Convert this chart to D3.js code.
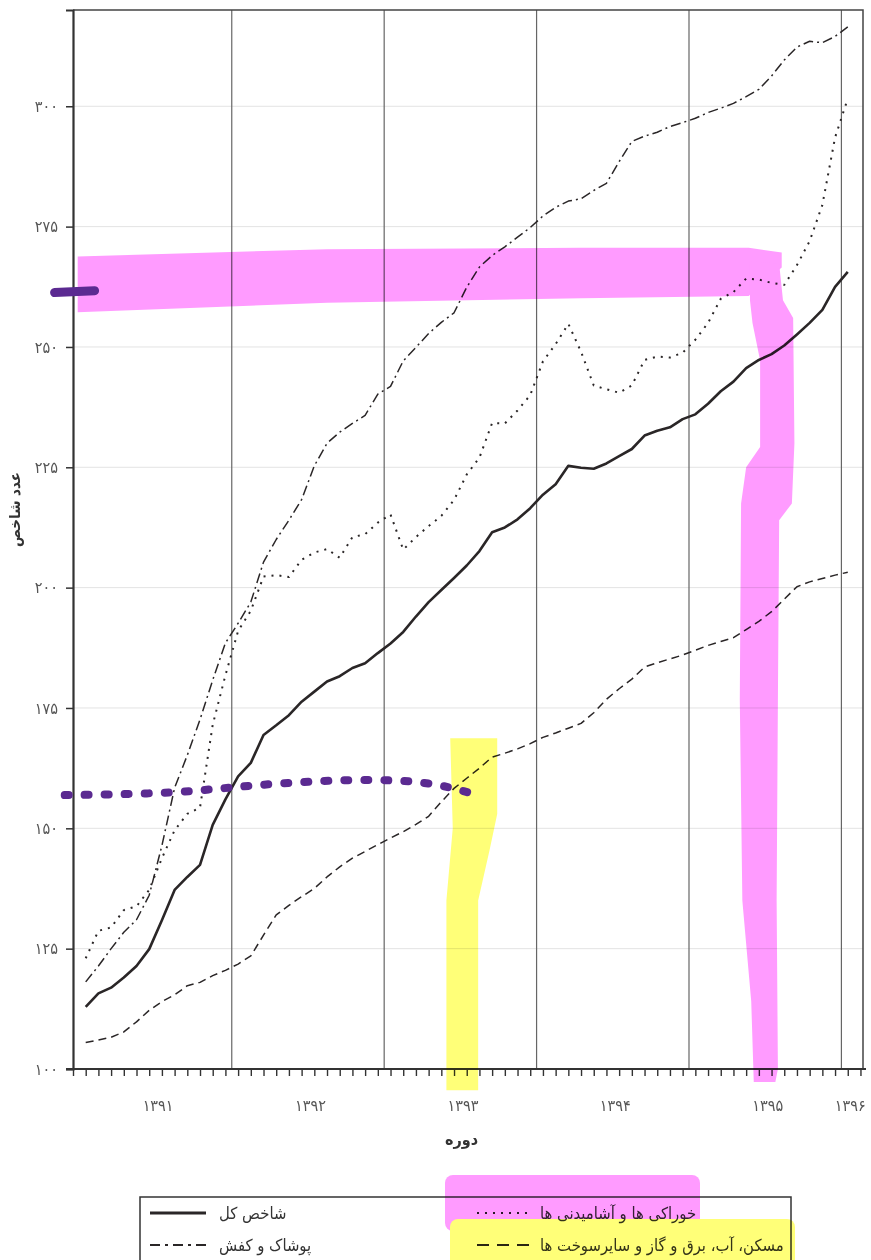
<!DOCTYPE html>
<html>
<head>
<meta charset="utf-8">
<script src="https://cdn.jsdelivr.net/npm/d3@7"></script>
<style>
  body { margin: 0; background: #fff; }
  text { font-family: "DejaVu Sans Condensed", "DejaVu Sans", sans-serif; }
</style>
</head>
<body>
<div id="chart"></div>
<script>
// Monthly index values, 1391/01 .. 1396/01 (61 months)
var total = [112.9, 115.7, 116.9, 119.0, 121.4, 124.9, 130.9, 137.2, 139.9, 142.4,
  150.7, 156.0, 160.8, 163.6, 169.4, 171.4, 173.5, 176.3, 178.4, 180.5,
  181.6, 183.3, 184.3, 186.4, 188.4, 190.8, 194.0, 197.0, 199.5, 202.0,
  204.6, 207.6, 211.5, 212.5, 214.2, 216.5, 219.3, 221.5, 225.3, 224.9,
  224.7, 225.8, 227.3, 228.8, 231.6, 232.6, 233.3, 235.0, 236.0, 238.2,
  240.8, 242.8, 245.6, 247.3, 248.5, 250.3, 252.6, 255.0, 257.7, 262.5, 265.6];

var food = [123.0, 128.7, 129.4, 133.0, 133.8, 137.2, 143.8, 149.6, 153.0, 154.3,
  171.5, 181.8, 191.0, 195.2, 202.3, 202.6, 202.2, 205.8, 207.3, 208.0,
  206.2, 210.5, 211.1, 213.5, 215.2, 207.9, 210.5, 212.8, 214.9, 218.2,
  223.5, 227.0, 234.2, 234.1, 236.8, 240.0, 247.0, 250.6, 254.8, 249.0,
  242.0, 241.2, 240.5, 242.0, 247.3, 248.0, 247.8, 248.8, 251.5, 255.0,
  260.0, 261.4, 264.2, 264.0, 263.3, 262.9, 267.0, 272.0, 279.5, 293.5, 301.6];

var clothing = [118.1, 121.4, 125.0, 128.4, 131.0, 136.1, 146.4, 158.4, 165.2, 172.6,
  180.8, 188.5, 192.6, 197.0, 205.3, 210.0, 214.0, 218.3, 225.3, 230.0,
  232.3, 234.1, 235.8, 240.2, 241.8, 247.1, 249.9, 252.8, 255.1, 257.1,
  262.4, 266.6, 269.0, 270.8, 272.8, 274.8, 277.2, 279.0, 280.3, 280.8,
  282.5, 284.0, 288.5, 292.7, 293.8, 294.6, 295.8, 296.6, 297.5, 298.7,
  299.6, 300.6, 302.0, 303.5, 306.3, 309.6, 312.3, 313.5, 313.2, 314.5, 316.5];

var housing = [105.5, 106.0, 106.6, 107.7, 109.8, 112.2, 114.0, 115.4, 117.3, 118.0,
  119.4, 120.5, 121.8, 123.5, 127.8, 132.0, 134.0, 135.8, 137.5, 139.9,
  142.0, 143.8, 145.2, 146.6, 148.0, 149.3, 150.8, 152.5, 155.5, 158.3,
  160.4, 162.5, 164.8, 165.6, 166.5, 167.6, 168.9, 169.8, 170.8, 171.8,
  174.0, 176.8, 179.0, 181.0, 183.5, 184.4, 185.2, 186.0, 187.0, 188.0,
  188.8, 189.6, 191.3, 193.0, 195.0, 197.6, 200.2, 201.2, 201.9, 202.6, 203.2];

var years = [1391, 1392, 1393, 1394, 1395, 1396];
var yTicks = [100, 125, 150, 175, 200, 225, 250, 275, 300];
var seriesNames = ["شاخص کل", "پوشاک و کفش", "خوراکی ها و آشامیدنی ها", "مسکن، آب، برق و گاز و سایرسوخت ها"];

// hand-drawn highlighter marks, in (month index, index value)
var pinkBand = [[0.37, 268.8], [20, 270.3], [40, 270.6], [53.2, 270.6], [55.8, 269.6],
  [55.8, 266.5], [53.2, 260.6], [40, 260.1], [20, 259.2], [0.37, 257.2]];
var pinkColumn = [[53.3, 267.8], [55.6, 267.3], [55.9, 259.7], [56.7, 256.0], [56.8, 230], [56.6, 217.5],
  [55.6, 214], [55.5, 176.6], [55.4, 135], [55.5, 100], [55.3, 97.3], [53.6, 97.3], [53.4, 114],
  [52.7, 135], [52.5, 176.6], [52.6, 217.5], [53.0, 225], [54.1, 229.2], [54.1, 247.2], [53.5, 255], [53.3, 259.7]];
var yellowColumn = [[29.7, 168.7], [33.4, 168.7], [33.4, 153], [32.8, 145.5], [31.9, 135], [31.9, 95.6],
  [29.4, 95.6], [29.4, 135], [29.9, 150]];
var purpleDots = [[-0.65, 156.9], [8, 157.2], [14, 159.0], [22, 160.3], [28, 159.8], [31.3, 157.3]];
var purpleMark = [[-1.45, 261.3], [1.7, 261.7]];

var toFa = function(v) {
  return String(v).replace(/\d/g, function(d) { return "۰۱۲۳۴۵۶۷۸۹"[+d]; });
};

var svgWidth = 871;
var svgHeight = 1260;
var margin = { top: 10, right: 8, bottom: 191, left: 73 };
var width = svgWidth - margin.left - margin.right;
var height = svgHeight - margin.top - margin.bottom;

var svg = d3.select("#chart")
  .append("svg")
  .attr("width", svgWidth)
  .attr("height", svgHeight);

var chartGroup = svg.append("g")
  .attr("transform", `translate(${margin.left}, ${margin.top})`);

var x = d3.scaleLinear().domain([0, 62.2]).range([0, width]);
var y = d3.scaleLinear().domain([100, 320]).range([height, 0]);

// horizontal grid
chartGroup.selectAll(".grid")
  .data(yTicks.slice(1))
  .enter()
  .append("line")
  .attr("x1", 0).attr("x2", width)
  .attr("y1", d => y(d)).attr("y2", d => y(d))
  .attr("stroke", "#e3e3e3")
  .attr("stroke-width", 1);

// year separators
chartGroup.selectAll(".yearLine")
  .data(years.slice(1))
  .enter()
  .append("line")
  .attr("x1", (d, i) => x(12 * (i + 1) + 0.5))
  .attr("x2", (d, i) => x(12 * (i + 1) + 0.5))
  .attr("y1", 0).attr("y2", height)
  .attr("stroke", "#666")
  .attr("stroke-width", 1.2);

// series
var line = d3.line()
  .x((d, i) => x(i + 1))
  .y(d => y(d));

var series = [
  { values: housing, dash: "8,5", w: 1.5 },
  { values: clothing, dash: "10,4,2,4", w: 1.5 },
  { values: food, dash: "2,6", w: 2 },
  { values: total, dash: null, w: 2.6 }
];

series.forEach(function(s) {
  chartGroup.append("path")
    .datum(s.values)
    .attr("d", line)
    .attr("fill", "none")
    .attr("stroke", "#2a2627")
    .attr("stroke-width", s.w)
    .attr("stroke-linejoin", "round")
    .attr("stroke-dasharray", s.dash);
});

// frame (top and right)
chartGroup.append("path")
  .attr("d", `M0,0H${width}V${height}`)
  .attr("fill", "none")
  .attr("stroke", "#444")
  .attr("stroke-width", 1.5);

// axes
var leftAxis = d3.axisLeft(y).tickValues(yTicks).tickFormat(toFa).tickSize(7).tickPadding(8);
var bottomAxis = d3.axisBottom(x).tickValues(d3.range(0, 63)).tickFormat("").tickSize(7);

var yAxisG = chartGroup.append("g").call(leftAxis);
yAxisG.select(".domain").attr("stroke", "#333").attr("stroke-width", 2.2);
yAxisG.selectAll(".tick line").attr("stroke", "#333").attr("stroke-width", 1.5);
yAxisG.selectAll(".tick text")
  .attr("fill", "#555")
  .style("font-size", "16px")
  .style("font-family", "'DejaVu Sans Condensed', 'DejaVu Sans', sans-serif");

var xAxisG = chartGroup.append("g")
  .attr("transform", `translate(0, ${height})`)
  .call(bottomAxis);
xAxisG.select(".domain").attr("d", `M-7,0H${width + 3}`).attr("stroke", "#333").attr("stroke-width", 2.2);
xAxisG.selectAll(".tick line").attr("stroke", "#333").attr("stroke-width", 1.4);

// year labels
chartGroup.selectAll(".yearLabel")
  .data(years)
  .enter()
  .append("text")
  .attr("x", (d, i) => x(Math.min(12 * i + 6.7, 61.2)))
  .attr("y", height + 42)
  .attr("text-anchor", "middle")
  .attr("fill", "#555")
  .style("font-size", "16px")
  .text(d => toFa(d));

// axis titles
chartGroup.append("text")
  .attr("transform", `translate(${-58}, ${height / 2 - 30}) rotate(-90)`)
  .attr("text-anchor", "middle")
  .attr("dy", "0.35em")
  .attr("fill", "#333")
  .style("font-size", "15px")
  .style("font-weight", "bold")
  .text("عدد شاخص");

chartGroup.append("text")
  .attr("x", x(30.6))
  .attr("y", height + 76)
  .attr("text-anchor", "middle")
  .attr("fill", "#333")
  .style("font-size", "16px")
  .style("font-weight", "bold")
  .text("دوره");

// legend
var legend = svg.append("g").attr("transform", "translate(140, 1197)");
legend.append("rect")
  .attr("x", 0).attr("y", 0)
  .attr("width", 651).attr("height", 80)
  .attr("fill", "none")
  .attr("stroke", "#333")
  .attr("stroke-width", 1.5);

var legendItems = [
  { name: seriesNames[0], dash: null, w: 3, col: 0, row: 0 },
  { name: seriesNames[1], dash: "10,5,3,5", w: 2, col: 0, row: 1 },
  { name: seriesNames[2], dash: "2,6", w: 2, col: 1, row: 0 },
  { name: seriesNames[3], dash: "12,8", w: 2, col: 1, row: 1 }
];
var colX = [10, 337];
var textX = [79, 400];
var rowY = [16, 48];

legendItems.forEach(function(d) {
  legend.append("line")
    .attr("x1", colX[d.col]).attr("x2", colX[d.col] + 56)
    .attr("y1", rowY[d.row]).attr("y2", rowY[d.row])
    .attr("stroke", "#2a2627")
    .attr("stroke-width", d.w)
    .attr("stroke-dasharray", d.dash);
  legend.append("text")
    .attr("x", textX[d.col])
    .attr("y", rowY[d.row] + 6)
    .attr("fill", "#333")
    .style("font-size", "16.5px")
    .text(d.name);
});

// highlighter marks
var area = d3.line().x(d => x(d[0])).y(d => y(d[1])).curve(d3.curveLinearClosed);
var hl = chartGroup.append("g").style("mix-blend-mode", "multiply");

hl.append("path").attr("d", area(pinkBand)).attr("fill", "#ff9bff");
hl.append("path").attr("d", area(pinkColumn)).attr("fill", "#ff9bff");
hl.append("path").attr("d", area(yellowColumn)).attr("fill", "#ffff78");

var stroke = d3.line().x(d => x(d[0])).y(d => y(d[1])).curve(d3.curveBasis);
chartGroup.append("path")
  .attr("d", stroke(purpleDots))
  .attr("fill", "none")
  .attr("stroke", "#5b2a91")
  .attr("stroke-width", 8)
  .attr("stroke-linecap", "round")
  .attr("stroke-dasharray", "4,16");
chartGroup.append("path")
  .attr("d", stroke(purpleMark))
  .attr("fill", "none")
  .attr("stroke", "#5b2a91")
  .attr("stroke-width", 9)
  .attr("stroke-linecap", "round");

var lhl = legend.append("g").style("mix-blend-mode", "multiply");
lhl.append("rect").attr("x", 305).attr("y", -22).attr("width", 255).attr("height", 56).attr("rx", 8).attr("fill", "#ff9bff");
lhl.append("rect").attr("x", 310).attr("y", 22).attr("width", 345).attr("height", 50).attr("rx", 8).attr("fill", "#ffff78");
</script>
</body>
</html>
